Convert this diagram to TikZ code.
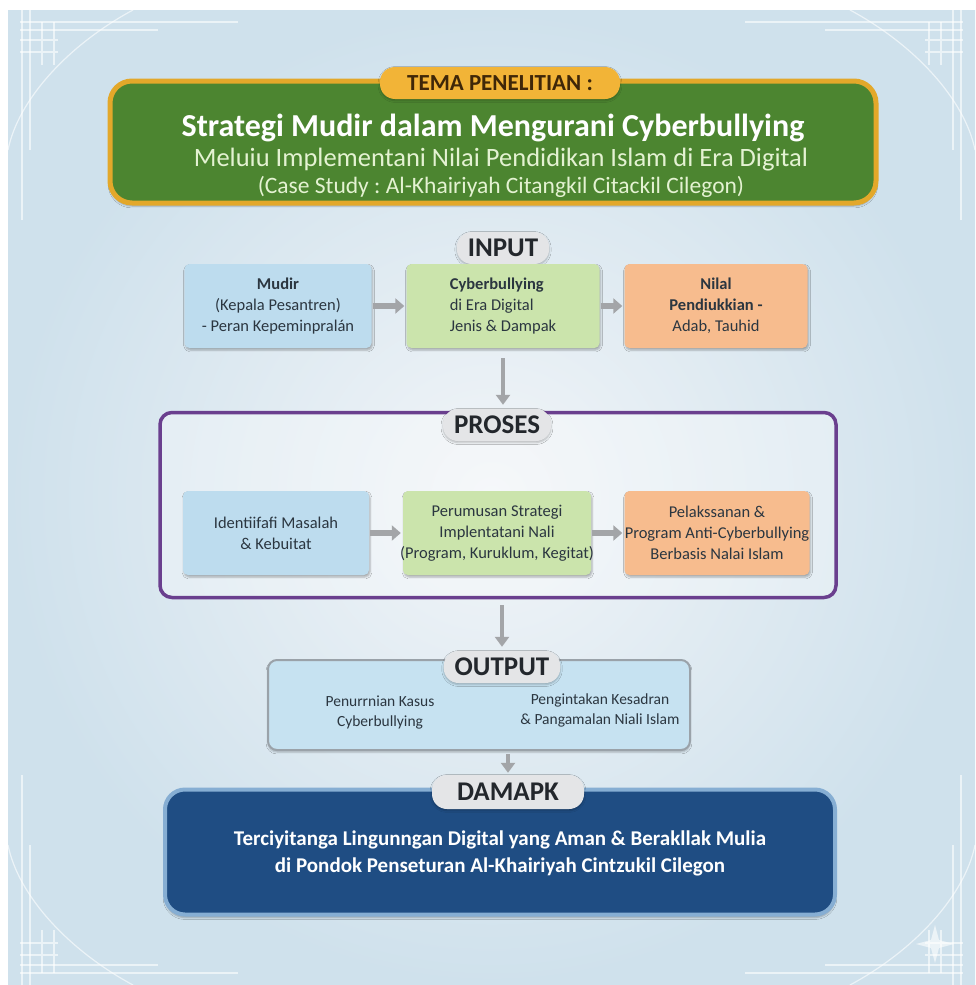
\documentclass[tikz,border=0pt]{standalone}
\usepackage{fontspec}
\setmainfont{Carlito}
\usetikzlibrary{arrows.meta,shadows.blur,positioning}
\frenchspacing

\definecolor{bgouter}{HTML}{CFE1EC}
\definecolor{bginner}{HTML}{F2F5F8}
\definecolor{themegreen}{HTML}{4C8530}
\definecolor{themegold}{HTML}{E3A82A}
\definecolor{tabgold}{HTML}{F2B437}
\definecolor{tabbrown}{HTML}{3F2708}
\definecolor{tabgrey}{HTML}{E4E5E7}
\definecolor{darktext}{HTML}{23272C}
\definecolor{boxtext}{HTML}{2B3640}
\definecolor{boxblue}{HTML}{BDDCEE}
\definecolor{boxgreen}{HTML}{CBE4AC}
\definecolor{boxorange}{HTML}{F7BC8E}
\definecolor{frameviolet}{HTML}{6A3F8E}
\definecolor{arrowgrey}{HTML}{A3A5A8}
\definecolor{outblue}{HTML}{C6E2F1}
\definecolor{outgrey}{HTML}{9AA2A9}
\definecolor{impactblue}{HTML}{1F4D83}
\definecolor{impactrim}{HTML}{86AED3}
\definecolor{subgreen}{HTML}{E4F2D2}

\begin{document}
\begin{tikzpicture}[x=1pt, y=-1pt]
    \tikzset{Tab/.style={shape=rectangle, rounded corners=15pt, fill=tabgrey, minimum height=32pt, inner xsep=11pt, inner ysep=2pt, text=darktext, font=\fontsize{27}{28}\selectfont\bfseries, blur shadow={shadow xshift=0pt, shadow yshift=-1.5pt, shadow opacity=25}}}
    \tikzset{Box/.style={shape=rectangle, rounded corners=5pt, align=center, inner xsep=0pt, text=boxtext, font=\fontsize{16.5}{21}\selectfont, minimum height=84pt, blur shadow={shadow xshift=1pt, shadow yshift=-2pt, shadow opacity=30}}}
    \tikzset{Plain/.style={align=center, text=boxtext, font=\fontsize{15.5}{20}\selectfont}}
    \tikzset{HArrow/.style={draw=arrowgrey, line width=6pt, -{Triangle[length=9pt, width=15pt]}, shorten <=1pt, shorten >=2pt}}
    \tikzset{VArrow/.style={draw=arrowgrey, line width=4pt, -{Triangle[length=10pt, width=14pt]}, shorten <=10pt, shorten >=4pt}}
    \tikzset{Ornament/.style={draw=white, line width=1.2pt, opacity=0.6}}

    % background
    \useasboundingbox (0,0) rectangle (975,985);
    \fill[white] (0,0) rectangle (975,985);
    \shade[inner color=bginner, outer color=bgouter] (8,10) rectangle (975,985);
    \foreach \sx/\sy/\ox/\oy in {1/1/8/10, -1/1/975/10, 1/-1/8/985, -1/-1/975/985} {
        \begin{scope}[shift={(\ox,\oy)}, xscale=\sx, yscale=\sy]
            \draw[Ornament] (12,12) -- (230,12);
            \draw[Ornament] (12,20) -- (150,20);
            \draw[Ornament] (14,0) -- (14,210);
            \draw[Ornament] (22,0) -- (22,140);
            \draw[Ornament] (12,30) -- (50,30) (12,42) -- (50,42) (34,12) -- (34,55) (46,12) -- (46,55);
            \draw[Ornament] (125,0) .. controls (60,35) and (10,90) .. (0,140);
        \end{scope}
    }
    \fill[white, opacity=0.6] (935,925) -- (939,940) -- (954,944) -- (939,948) -- (935,963) -- (931,948) -- (916,944) -- (931,940) -- cycle;

    % theme
    \node[shape=rectangle, rounded corners=22pt, fill=themegreen, draw=themegold, line width=5pt, minimum width=766pt, minimum height=122pt, blur shadow={shadow xshift=0pt, shadow yshift=-3pt, shadow opacity=30}] (theme) at (493,142) {};
    \node[Tab, fill=tabgold, text=tabbrown, minimum width=240pt, minimum height=32pt, font=\fontsize{23}{24}\selectfont\bfseries] (temaTab) at (500,83) {TEMA PENELITIAN :};
    \node[align=center, text=white, font=\fontsize{32}{34}\selectfont\bfseries] (themeTitle) at (493,128) {Strategi Mudir dalam Mengurani Cyberbullying};
    \node[align=center, text=subgreen, font=\fontsize{26.5}{27}\selectfont] (themeSub) at (501,173) {Meluiu Implementani Nilai Pendidikan Islam di Era Digital\\{\fontsize{23.5}{27}\selectfont (Case Study : Al-Khairiyah Citangkil Citackil Cilegon)}};

    % input
    \node[Tab] (inputTab) at (503,248) {INPUT};
    \node[Box, fill=boxblue, minimum width=187pt] (mudir) at (278,306) {\textbf{Mudir}\\(Kepala Pesantren)\\- Peran Kepeminpralán};
    \node[Box, fill=boxgreen, minimum width=193pt, align=left] (cyber) at (503,306) {\textbf{Cyberbullying}\\di Era Digital\\Jenis \& Dampak};
    \node[Box, fill=boxorange, minimum width=183pt] (nilai) at (716,306) {\textbf{Nilal}\\\textbf{Pendiukkian -}\\Adab, Tauhid};

    % proses
    \node[shape=rectangle, rounded corners=12pt, draw=frameviolet, line width=3.5pt, fill=white, fill opacity=0.3, minimum width=676pt, minimum height=185pt] (proses) at (498,505) {};
    \node[Tab] (prosesTab) at (497,425) {PROSES};
    \node[Box, fill=boxblue, minimum width=186pt] (ident) at (276,533) {Identiifafi Masalah\\\& Kebuitat};
    \node[Box, fill=boxgreen, minimum width=188pt, inner xsep=-8pt] (perum) at (497,533) {Perumusan Strategi\\Implentatani Nali\\(Program, Kuruklum, Kegitat)};
    \node[Box, fill=boxorange, minimum width=185pt, inner xsep=-8pt] (pelak) at (717,533) {Pelakssanan \&\\Program Anti-Cyberbullying\\Berbasis Nalai Islam};

    % output
    \node[shape=rectangle, rounded corners=9pt, fill=outblue, draw=outgrey, line width=2pt, minimum width=422pt, minimum height=90pt, blur shadow={shadow xshift=0pt, shadow yshift=-2pt, shadow opacity=25}] (output) at (479,705) {};
    \node[Tab] (outputTab) at (502,667) {OUTPUT};
    \node[Plain] (turun) at (380,712) {Penurrnian Kasus\\Cyberbullying};
    \node[Plain] (sadar) at (600,710) {Pengintakan Kesadran\\\& Pangamalan Niali Islam};

    % damapk
    \node[shape=rectangle, rounded corners=20pt, fill=impactblue, draw=impactrim, line width=4pt, minimum width=670pt, minimum height=125pt, blur shadow={shadow xshift=0pt, shadow yshift=-3pt, shadow opacity=30}] (damapk) at (500,852) {};
    \node[Tab, minimum width=152pt, minimum height=34pt] (damapkTab) at (508,792) {DAMAPK};
    \node[align=center, text=white, font=\fontsize{21}{27}\selectfont\bfseries] (impact) at (500,853) {Terciyitanga Lingunngan Digital yang Aman \& Berakllak Mulia\\di Pondok Penseturan Al-Khairiyah Cintzukil Cilegon};

    % arrows
    \draw[HArrow] (mudir) -- (cyber);
    \draw[HArrow] (cyber) -- (nilai);
    \draw[HArrow] (ident) -- (perum);
    \draw[HArrow] (perum) -- (pelak);
    \draw[VArrow] (cyber.south) -- (cyber.south |- prosesTab.north);
    \draw[VArrow, shorten <=6pt] (proses.south -| outputTab) -- (outputTab.north);
    \draw[VArrow, shorten <=3pt, shorten >=2pt] (output.south -| damapkTab) -- (damapkTab.north);
\end{tikzpicture}
\end{document}
